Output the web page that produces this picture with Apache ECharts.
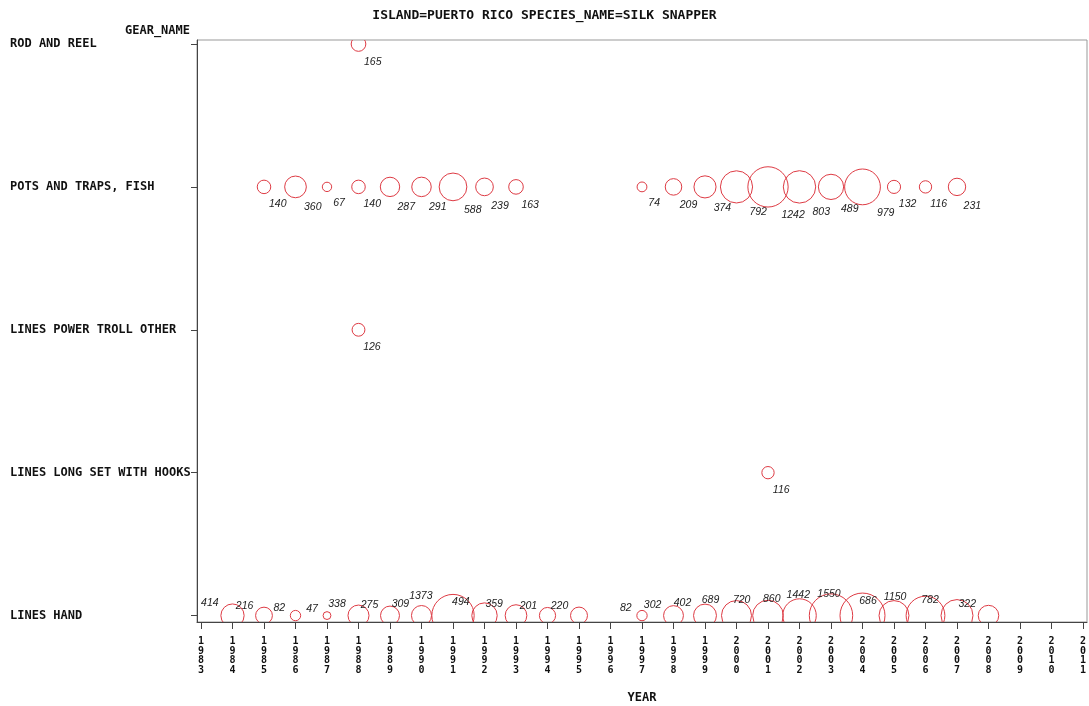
<!DOCTYPE html>
<html>
<head>
<meta charset="utf-8">
<script src="https://cdn.jsdelivr.net/npm/echarts@6/dist/echarts.min.js"></script>
<style>html,body{margin:0;padding:0;background:#fff}#c{width:1089px;height:706px}</style>
</head>
<body>
<div id="c"></div>
<script>
// Categories (row 0 = bottom)
const gearNames = ['LINES HAND', 'LINES LONG SET WITH HOOKS', 'LINES POWER TROLL OTHER', 'POTS AND TRAPS, FISH', 'ROD AND REEL'];
const xTickYears = [1983,1984,1985,1986,1987,1988,1989,1990,1991,1992,1993,1994,1995,1996,1997,1998,1999,2000,2001,2002,2003,2004,2005,2006,2007,2008,2009,2010,2011];

const rodYears = [1988];
const rodValues = [165];
const potsYears = [1985,1986,1987,1988,1989,1990,1991,1992,1993,1997,1998,1999,2000,2001,2002,2003,2004,2005,2006,2007];
const potsValues = [140,360,67,140,287,291,588,239,163,74,209,374,792,1242,803,489,979,132,116,231];
const trollYears = [1988];
const trollValues = [126];
const longSetYears = [2001];
const longSetValues = [116];
const handYears = [1984,1985,1986,1987,1988,1989,1990,1991,1992,1993,1994,1995,1997,1998,1999,2000,2001,2002,2003,2004,2005,2006,2007,2008];
const handValues = [414,216,82,47,338,275,309,1373,494,359,201,220,82,302,402,689,720,860,1442,1550,686,1150,782,322];

function rows(years, values, row) {
  return years.map((y, i) => [y, row, values[i]]);
}
const bubbleData = [].concat(
  rows(rodYears, rodValues, 4),
  rows(potsYears, potsValues, 3),
  rows(trollYears, trollValues, 2),
  rows(longSetYears, longSetValues, 1),
  rows(handYears, handValues, 0)
);

const maxVal = 1550, maxR = 22.5;
const RED = '#de3b44';
const MONO = '"DejaVu Sans Mono", monospace';

const chart = echarts.init(document.getElementById('c'), null, {renderer: 'canvas'});
chart.setOption({
  animation: false,
  backgroundColor: '#fff',
  title: {
    text: 'ISLAND=PUERTO RICO SPECIES_NAME=SILK SNAPPER',
    left: 'center', top: 4,
    textStyle: {fontFamily: MONO, fontSize: 13, fontWeight: 'bold', color: '#111'}
  },
  grid: {left: 197, right: 2, top: 40, bottom: 84, outerBoundsMode: 'none', containLabel: false, show: true, borderColor: '#999', borderWidth: 1, backgroundColor: 'transparent'},
  xAxis: {
    type: 'value', min: 1982.873, max: 2011.127,
    name: 'YEAR', nameLocation: 'middle', nameGap: 70,
    nameTextStyle: {fontFamily: MONO, fontSize: 12, fontWeight: 'bold', color: '#111'},
    axisLine: {show: true, onZero: false, lineStyle: {color: '#444', width: 1}},
    axisTick: {show: true, length: 7, inside: false, customValues: xTickYears, lineStyle: {color: '#444'}},
    axisLabel: {
      customValues: xTickYears, margin: 15,
      formatter: v => String(Math.round(v)).split('').join('\n'),
      fontFamily: MONO, fontSize: 10, fontWeight: 'bold', lineHeight: 9.5, color: '#111'
    },
    splitLine: {show: false}
  },
  yAxis: {
    type: 'value', min: -0.045, max: 4.028,
    name: 'GEAR_NAME', nameLocation: 'end', nameGap: 3,
    nameTextStyle: {fontFamily: MONO, fontSize: 12, fontWeight: 'bold', color: '#111', align: 'right', padding: [0, 7, 0, 0]},
    axisLine: {show: true, onZero: false, lineStyle: {color: '#444', width: 1}},
    axisTick: {show: true, length: 6, customValues: [0,1,2,3,4], lineStyle: {color: '#444'}},
    axisLabel: {
      customValues: [0,1,2,3,4], margin: 187, align: 'left',
      formatter: v => gearNames[Math.round(v)] || '',
      fontFamily: MONO, fontSize: 12, fontWeight: 'bold', color: '#111'
    },
    splitLine: {show: false}
  },
  series: [{
    type: 'custom',
    clip: true,
    data: bubbleData,
    renderItem: function (params, api) {
      const yr = api.value(0), row = api.value(1), v = api.value(2);
      const p = api.coord([yr, row]);
      const r = maxR * Math.sqrt(v / maxVal);
      let dx, dy;
      if (row === 0) { dx = -(11 + r); dy = -(3 + 0.8 * r); }
      else { dx = 8 + 0.85 * r; dy = 12 + 0.8 * r; }
      return {
        type: 'group',
        children: [
          {type: 'circle', shape: {cx: p[0], cy: p[1], r: r}, style: {fill: 'none', stroke: RED, lineWidth: 1}},
          {type: 'text', x: p[0] + dx, y: p[1] + dy,
           style: {text: String(v), fill: '#222', fontFamily: '"Liberation Sans", Arial, sans-serif', fontStyle: 'italic', fontSize: 10.5, align: 'center', verticalAlign: 'middle'}}
        ]
      };
    }
  }]
});
</script>
</body>
</html>
